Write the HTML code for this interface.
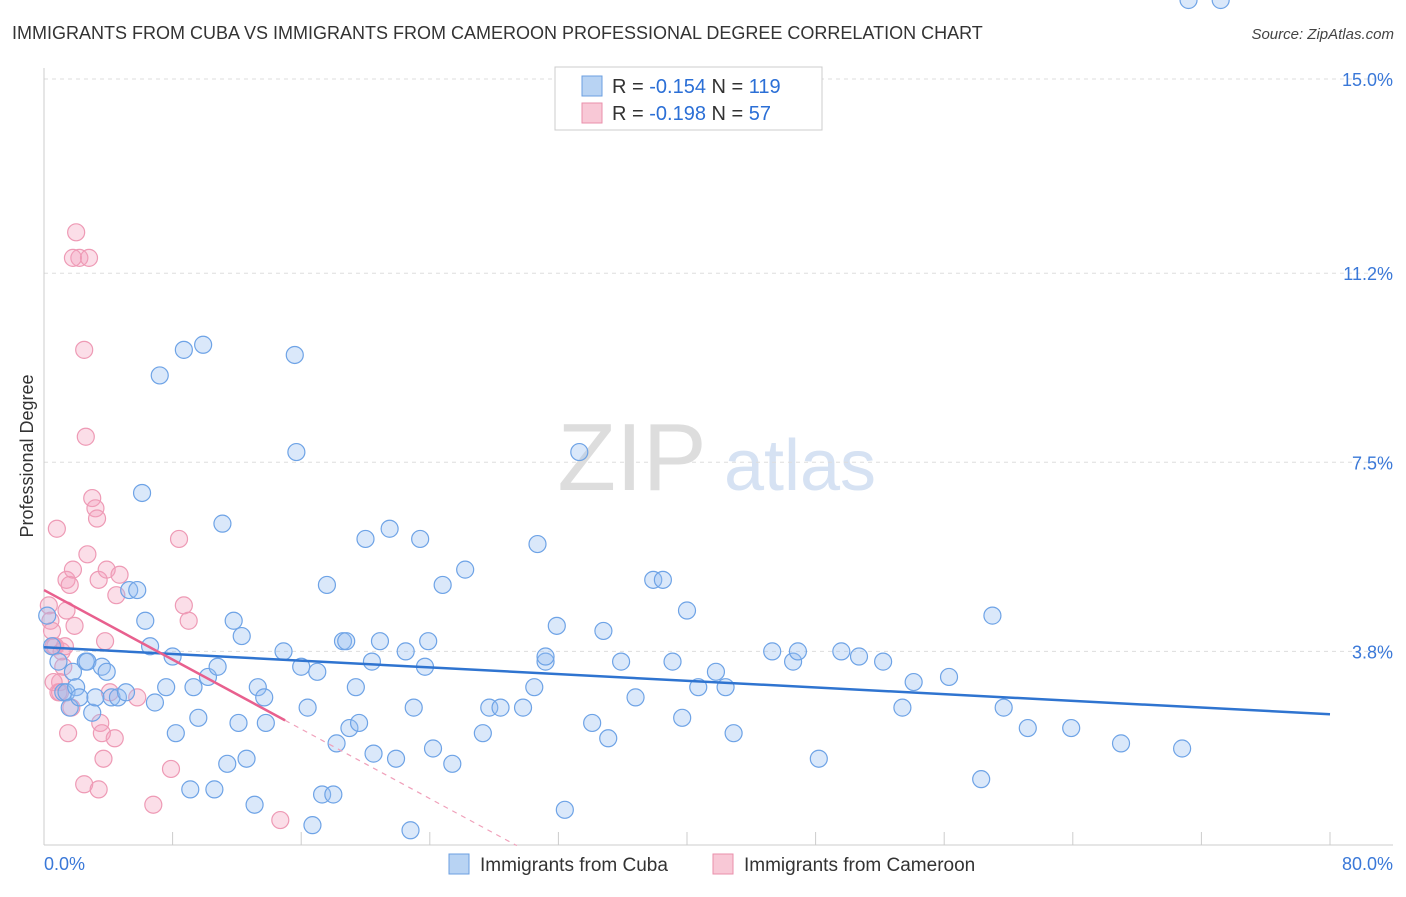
<!DOCTYPE html>
<html><head><meta charset="utf-8"><style>
body{margin:0;background:#fff;font-family:"Liberation Sans",sans-serif;}
svg text{font-family:"Liberation Sans",sans-serif;}
</style></head><body>
<svg id="chart" width="1406" height="892" viewBox="0 0 1406 892" xmlns="http://www.w3.org/2000/svg">
<text x="12" y="39" font-size="18" fill="#333">IMMIGRANTS FROM CUBA VS IMMIGRANTS FROM CAMEROON PROFESSIONAL DEGREE CORRELATION CHART</text>
<text x="1394" y="39" font-size="15" fill="#444" text-anchor="end" font-style="italic">Source: ZipAtlas.com</text>
<text transform="translate(33,456) rotate(-90)" font-size="18" fill="#333" text-anchor="middle">Professional Degree</text>
<g>
<text x="632" y="490" font-size="96" fill="#ddd" font-family="Liberation Serif" text-anchor="middle">ZIP</text>
<text x="800" y="490" font-size="72" fill="#d6e2f3" text-anchor="middle">atlas</text>
</g>
<g id="grid"></g>
<g id="axes"></g>
<g id="points"></g>
<g id="trends"></g>
<g>
<rect x="555" y="67" width="267" height="63" fill="#fff" stroke="#ccc"/>
<rect x="582" y="76" width="20" height="20" fill="#b8d3f3" stroke="#6b9fe0"/>
<rect x="582" y="103" width="20" height="20" fill="#f8c8d6" stroke="#ea8fab"/>
<text x="612" y="93" font-size="20" fill="#333">R = <tspan fill="#2b6fd6">-0.154</tspan>   N = <tspan fill="#2b6fd6">119</tspan></text>
<text x="612" y="120" font-size="20" fill="#333">R = <tspan fill="#2b6fd6">-0.198</tspan>   N =  <tspan fill="#2b6fd6">57</tspan></text>
</g>
<g>
<rect x="449" y="854" width="20" height="20" fill="#b8d3f3" stroke="#6b9fe0"/>
<text x="480" y="871" font-size="19" fill="#333">Immigrants from Cuba</text>
<rect x="713" y="854" width="20" height="20" fill="#f8c8d6" stroke="#ea8fab"/>
<text x="744" y="871" font-size="19" fill="#333">Immigrants from Cameroon</text>
</g>
</svg>
<script>
const yTicks=[3.8,7.5,11.2,15.0];
const yTickLabels=["3.8%","7.5%","11.2%","15.0%"];
const xTickLabels=["0.0%","80.0%"];
const cubaX=[0.2,0.5,0.9,1.2,1.4,1.6,1.8,2.0,2.2,2.6,2.7,3.0,3.2,3.6,3.9,4.2,4.6,5.1,5.3,5.8,6.1,6.3,6.6,6.9,7.2,7.6,8.0,8.2,8.7,9.1,9.3,9.6,9.9,10.2,10.6,10.8,11.1,11.4,11.8,12.1,12.3,12.6,13.1,13.3,13.7,13.8,14.9,15.6,15.7,16.0,16.4,16.7,17.0,17.3,17.6,18.0,18.2,18.6,18.8,19.0,19.4,19.6,20.0,20.4,20.5,20.9,21.5,21.9,22.5,22.8,23.0,23.4,23.7,23.9,24.2,24.8,25.4,26.2,27.3,27.7,28.4,29.8,30.5,30.7,31.2,31.2,31.9,32.4,33.3,34.1,34.8,35.1,35.9,36.8,37.9,38.5,39.1,39.7,40.0,40.7,41.8,42.4,42.9,45.3,46.6,46.9,48.2,49.6,50.7,52.2,53.4,54.1,56.3,58.3,59.0,59.7,61.2,63.9,67.0,70.8,71.2,73.2];
const cubaY=[4.5,3.9,3.6,3.0,3.0,2.7,3.4,3.1,2.9,3.6,3.6,2.6,2.9,3.5,3.4,2.9,2.9,3.0,5.0,5.0,6.9,4.4,3.9,2.8,9.2,3.1,3.7,2.2,9.7,1.1,3.1,2.5,9.8,3.3,1.1,3.5,6.3,1.6,4.4,2.4,4.1,1.7,0.8,3.1,2.9,2.4,3.8,9.6,7.7,3.5,2.7,0.4,3.4,1.0,5.1,1.0,2.0,4.0,4.0,2.3,3.1,2.4,6.0,3.6,1.8,4.0,6.2,1.7,3.8,0.3,2.7,6.0,3.5,4.0,1.9,5.1,1.6,5.4,2.2,2.7,2.7,2.7,3.1,5.9,3.6,3.7,4.3,0.7,7.7,2.4,4.2,2.1,3.6,2.9,5.2,5.2,3.6,2.5,4.6,3.1,3.4,3.1,2.2,3.8,3.6,3.8,1.7,3.8,3.7,3.6,2.7,3.2,3.3,1.3,4.5,2.7,2.3,2.3,2.0,1.9];
const camX=[0.3,0.4,0.5,0.6,0.7,0.8,0.9,1.0,1.2,1.4,1.5,1.6,1.7,1.8,1.9,2.0,2.2,1.8,2.8,2.5,2.6,2.7,3.0,3.2,3.3,3.4,3.5,3.6,3.7,3.8,3.9,4.1,4.4,4.5,4.7,5.8,6.8,7.9,8.4,8.7,9.0,14.7,2.5,3.4,1.1,0.6,1.0,1.3,1.4];
const camY=[4.7,4.4,4.2,3.9,3.9,6.2,3.0,3.2,3.5,5.2,2.2,5.1,2.7,5.4,4.3,12.0,11.5,11.5,11.5,9.7,8.0,5.7,6.8,6.6,6.4,5.2,2.4,2.2,1.7,4.0,5.4,3.0,2.1,4.9,5.3,2.9,0.8,1.5,6.0,4.7,4.4,0.5,1.2,1.1,3.8,3.2,3.0,3.9,4.6];
const cubaTrend=[3.88,2.57];
const camTrend=[5.0,2.45];
const NS="http://www.w3.org/2000/svg";
const X0=44,X1=1330,Ytop=79,Ybot=845.6;
const sx=v=>X0+(v/80)*(X1-X0);
const sy=v=>Ybot-(v/15)*(Ybot-Ytop);
function mk(tag,attrs,parent){const e=document.createElementNS(NS,tag);for(const k in attrs)e.setAttribute(k,attrs[k]);document.getElementById(parent).appendChild(e);return e;}
yTicks.forEach((t,i)=>{
 const g=mk('line',{x1:44,x2:1393,y1:sy(t),y2:sy(t),stroke:'#ddd','stroke-dasharray':'4,4'},'grid');
 
 
 const l=mk('text',{x:1393,y:sy(t)+7,'font-size':18,fill:'#3a78d8','text-anchor':'end'},'grid');
 l.textContent=yTickLabels[i];
 
 
});
const ax=mk('line',{x1:44,x2:44,y1:68,y2:845,stroke:'#ccc'},'axes');


const bx=mk('line',{x1:44,x2:1393,y1:845,y2:845,stroke:'#ccc'},'axes');


for(let i=0;i<=10;i++){const t=mk('line',{x1:sx(i*8),x2:sx(i*8),y1:832,y2:845,stroke:'#ccc'},'axes');
 
 }
const xl0=mk('text',{x:44,y:870,'font-size':18,fill:'#3a78d8'},'axes');xl0.textContent=xTickLabels[0];


const xl1=mk('text',{x:1393,y:870,'font-size':18,fill:'#3a78d8','text-anchor':'end'},'axes');xl1.textContent=xTickLabels[1];


camX.forEach((x,i)=>{const c=mk('circle',{cx:sx(x),cy:sy(camY[i]),r:8.5,fill:'rgba(244,160,188,0.35)',stroke:'#ee9ab5','stroke-width':1.2},'points');
 
 });
cubaX.forEach((x,i)=>{const c=mk('circle',{cx:sx(x),cy:sy(cubaY[i]),r:8.5,fill:'rgba(150,190,240,0.35)',stroke:'#6ea3e6','stroke-width':1.2},'points');
 
 });
const ct=mk('line',{x1:sx(0),y1:sy(cubaTrend[0]),x2:sx(80),y2:sy(cubaTrend[1]),stroke:'#2f74d0','stroke-width':2.5},'trends');


const slope=(camTrend[1]-camTrend[0])/15;
const pt=mk('line',{x1:sx(0),y1:sy(camTrend[0]),x2:sx(15),y2:sy(camTrend[1]),stroke:'#e8608e','stroke-width':2.5},'trends');


const xe=-camTrend[0]/slope;
const pd=mk('line',{x1:sx(15),y1:sy(camTrend[1]),x2:sx(xe),y2:sy(0),stroke:'#f0a0ba','stroke-width':1.2,'stroke-dasharray':'5,5'},'trends');


</script>
</body></html>
